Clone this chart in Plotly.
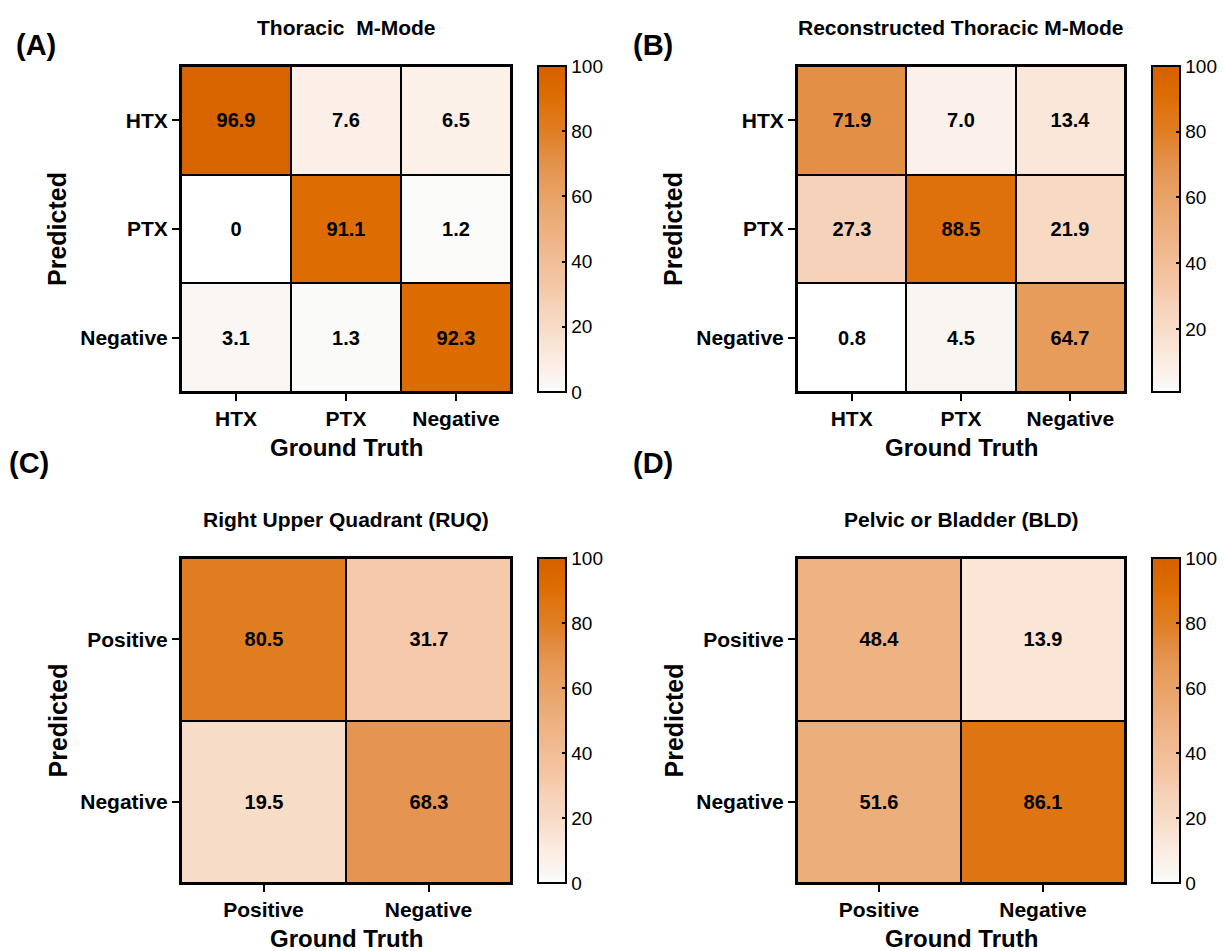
import plotly.graph_objects as go

# Confusion matrices (percent), rows = predicted class, columns = ground truth
thoracic_labels = ["HTX", "PTX", "Negative"]
binary_labels = ["Positive", "Negative"]

thoracic_mmode = [
    [96.9, 7.6, 6.5],
    [0.0, 91.1, 1.2],
    [3.1, 1.3, 92.3],
]
reconstructed_mmode = [
    [71.9, 7.0, 13.4],
    [27.3, 88.5, 21.9],
    [0.8, 4.5, 64.7],
]
ruq = [
    [80.5, 31.7],
    [19.5, 68.3],
]
bladder = [
    [48.4, 13.9],
    [51.6, 86.1],
]

panel_titles = ["Thoracic  M-Mode", "Reconstructed Thoracic M-Mode",
                "Right Upper Quadrant (RUQ)", "Pelvic or Bladder (BLD)"]
panel_letters = ["(A)", "(B)", "(C)", "(D)"]

W, H = 1225, 951
FONT = "Arial, Liberation Sans, Helvetica, sans-serif"

# white -> burnt orange ramp
orange_scale = [
    [0.00, "#FFFFFF"],
    [0.02, "#F8F8F6"],
    [0.07, "#FCF0E8"],
    [0.14, "#FAE5D7"],
    [0.20, "#F7DBC7"],
    [0.27, "#F5D2B8"],
    [0.32, "#F5C8A8"],
    [0.50, "#EDB07F"],
    [0.66, "#E69A58"],
    [0.72, "#E38E45"],
    [0.80, "#E07E22"],
    [0.87, "#DF7410"],
    [0.92, "#DC6B00"],
    [1.00, "#D65F00"],
]


def fmt(v):
    return "0" if v == 0 else f"{v:.1f}"


def px_x(p):
    return p / W


def px_y(p):
    return 1 - p / H


# pixel boxes of each heatmap: (left, right, top, bottom)
boxes = [
    (181, 511, 66, 392),
    (797, 1125, 66, 392),
    (181, 511, 558, 883),
    (797, 1125, 558, 883),
]
matrices = [thoracic_mmode, reconstructed_mmode, ruq, bladder]
cats = [thoracic_labels, thoracic_labels, binary_labels, binary_labels]
zmins = [0, min(min(r) for r in reconstructed_mmode), 0, 0]
cb_ticks = [[0, 20, 40, 60, 80, 100], [20, 40, 60, 80, 100],
            [0, 20, 40, 60, 80, 100], [0, 20, 40, 60, 80, 100]]
gt_offset = [56, 56, 55, 55]

fig = go.Figure()
annotations = []

for i, (z, labels, box) in enumerate(zip(matrices, cats, boxes)):
    l, r, t, b = box
    xa = "x" if i == 0 else f"x{i + 1}"
    ya = "y" if i == 0 else f"y{i + 1}"
    fig.add_trace(go.Heatmap(
        z=z,
        x=labels,
        y=labels,
        text=[[fmt(v) for v in row] for row in z],
        texttemplate="%{text}",
        textfont=dict(family=FONT, size=20, color="black", weight="bold"),
        colorscale=orange_scale,
        zmin=zmins[i],
        zmax=100,
        xgap=2,
        ygap=2,
        xaxis=xa,
        yaxis=ya,
        hoverinfo="skip",
        colorbar=dict(
            x=px_x(r + 27),
            xanchor="left",
            y=px_y((t + b) / 2),
            yanchor="middle",
            len=b - t,
            lenmode="pixels",
            thickness=28,
            thicknessmode="pixels",
            outlinewidth=2,
            outlinecolor="black",
            ticks="inside",
            ticklen=5,
            tickwidth=2,
            tickcolor="black",
            tickvals=cb_ticks[i],
            tickfont=dict(family=FONT, size=19, color="black"),
            xpad=0,
            ypad=0,
        ),
    ))

    axis_common = dict(
        showgrid=False,
        zeroline=False,
        showline=True,
        mirror=True,
        linecolor="black",
        linewidth=2,
        ticks="outside",
        ticklen=7,
        tickwidth=2,
        tickcolor="black",
        tickfont=dict(family=FONT, size=21, color="black", weight="bold"),
    )
    xkey = "xaxis" if i == 0 else f"xaxis{i + 1}"
    ykey = "yaxis" if i == 0 else f"yaxis{i + 1}"
    fig.update_layout({
        xkey: dict(axis_common, domain=[px_x(l), px_x(r)], anchor=ya,
                   categoryorder="array", categoryarray=labels),
        ykey: dict(axis_common, domain=[px_y(b), px_y(t)], anchor=xa,
                   categoryorder="array", categoryarray=labels,
                   autorange="reversed"),
    })

    cx = (l + r) / 2
    # subplot title
    annotations.append(dict(
        text=panel_titles[i], x=px_x(cx), y=px_y(t - 39), xref="paper", yref="paper",
        xanchor="center", yanchor="middle", showarrow=False,
        font=dict(family=FONT, size=21, color="black", weight="bold")))
    # x axis title
    annotations.append(dict(
        text="Ground Truth", x=px_x(cx), y=px_y(b + gt_offset[i]), xref="paper", yref="paper",
        xanchor="center", yanchor="middle", showarrow=False,
        font=dict(family=FONT, size=24, color="black", weight="bold")))
    # y axis title
    annotations.append(dict(
        text="Predicted", x=px_x(l - 124), y=px_y((t + b) / 2), xref="paper", yref="paper",
        xanchor="center", yanchor="middle", showarrow=False, textangle=-90,
        font=dict(family=FONT, size=25, color="black", weight="bold")))

# panel letters
letter_pos = [(36, 45), (653, 45), (29, 463), (653, 463)]
for letter, (lx, ly) in zip(panel_letters, letter_pos):
    annotations.append(dict(
        text=letter, x=px_x(lx), y=px_y(ly), xref="paper", yref="paper",
        xanchor="center", yanchor="middle", showarrow=False,
        font=dict(family=FONT, size=29, color="black", weight="bold")))

fig.update_layout(
    width=W,
    height=H,
    margin=dict(l=0, r=0, t=0, b=0),
    paper_bgcolor="white",
    plot_bgcolor="black",
    annotations=annotations,
    showlegend=False,
)

fig.write_html("out.html")
